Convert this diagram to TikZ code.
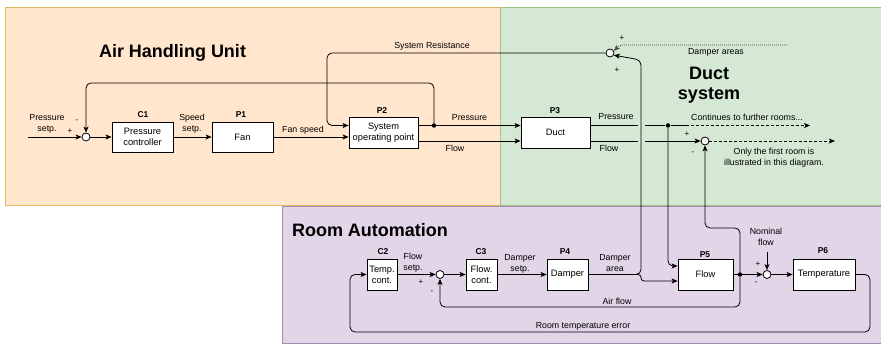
\documentclass[tikz,border=0pt]{standalone}
\usepackage{fontspec}
\setmainfont{Liberation Sans}
\usetikzlibrary{arrows.meta}
\definecolor{ahuF}{HTML}{FFE6CC}
\definecolor{ahuD}{HTML}{E0B860}
\definecolor{ductF}{HTML}{D5E8D4}
\definecolor{ductD}{HTML}{9CC487}
\definecolor{roomF}{HTML}{E1D5E7}
\definecolor{roomD}{HTML}{A68AB4}
\begin{document}
\begin{tikzpicture}[x=1pt,y=-1pt,
  line width=0.8pt,
  >={Stealth[length=6pt,width=5pt,inset=1.5pt]},
  blk/.style={draw,fill=white,minimum width=#1,minimum height=31pt,inner sep=1pt,
    font=\fontsize{9.3}{10.8}\selectfont,align=center},
  sumc/.style={circle,draw,fill=white,minimum size=8pt,inner sep=0pt},
  jdot/.style={circle,fill,minimum size=4.5pt,inner sep=0pt},
  lbl/.style={font=\fontsize{8.8}{11}\selectfont,inner sep=0pt,align=center},
  sgn/.style={font=\fontsize{8}{9}\selectfont,inner sep=0pt},
  tag/.style={font=\bfseries\fontsize{8.5}{10}\selectfont,inner sep=0pt},
  ttl/.style={font=\bfseries\fontsize{18}{20}\selectfont,inner sep=0pt,align=center},
  rc/.style={rounded corners=5pt},
  contline/.style={dash pattern=on 3pt off 2pt},
  arealine/.style={dash pattern=on 1pt off 1pt,line width=0.6pt,black!70}]
\useasboundingbox (0,0) rectangle (881,344);
% regions
\filldraw[fill=ahuF,draw=ahuD] (5,7) rectangle (500,205);
\fill[ductF] (500,7) rectangle (881,205);
\draw[ductD] (881,7) -- (500,7) -- (500,205) -- (881,205);
\fill[roomF] (282,206) rectangle (881,343);
\draw[roomD] (881,206) -- (282,206) -- (282,343) -- (881,343);
% titles
\node[ttl] (tahu) at (172.5,53) {Air Handling Unit};
\node[ttl] (tduct) at (709,85) {Duct\\system};
\node[ttl] (troom) at (370,230) {Room Automation};
% blocks
\node[sumc] (s1) at (86,137) {};
\node[blk=61pt,minimum height=30pt] (c1) at (142.5,137) {Pressure\\controller};
\node[blk=61pt,minimum height=30pt] (p1) at (242.5,137) {Fan};
\node[blk=69pt] (p2) at (383.5,132.5) {System\\operating point};
\node[blk=69pt] (p3) at (555.5,132.5) {Duct};
\node[sumc] (s2) at (610,53) {};
\node[sumc] (s3) at (705,141) {};
\node[blk=30pt] (c2) at (382,274.5) {Temp.\\cont.};
\node[sumc] (s4) at (440,274.5) {};
\node[blk=31pt] (c3) at (481.5,274.5) {Flow.\\cont.};
\node[blk=41pt] (p4) at (567.5,274.5) {Damper};
\node[blk=55pt] (p5) at (705.5,274.5) {Flow};
\node[sumc] (s5) at (767,274.5) {};
\node[blk=62pt] (p6) at (824,274.5) {Temperature};
% block tags
\node[tag] (tc1) at (143,115) {C1};
\node[tag] (tp1) at (241,115) {P1};
\node[tag] (tp2) at (382,111) {P2};
\node[tag] (tp3) at (555,111) {P3};
\node[tag] (tc2) at (383,252) {C2};
\node[tag] (tc3) at (481,252) {C3};
\node[tag] (tp4) at (565,252) {P4};
\node[tag] (tp5) at (705,255) {P5};
\node[tag] (tp6) at (823,251) {P6};
% junctions and free ends
\node[jdot] (d1) at (434,125.5) {};
\node[jdot] (d2) at (668,125.5) {};
\node[jdot] (d3) at (740,274.5) {};
\coordinate (in) at (28,137);
\coordinate (fy) at (0,141);
\coordinate (fb1) at (434,83);
\coordinate (fb2) at (86,83);
\coordinate (sr1) at (327,53);
\coordinate (sr2) at (327,125.5);
\coordinate (dsh) at (686,125.5);
\coordinate (cont) at (810,125.5);
\coordinate (out) at (835,141);
\coordinate (j) at (641,274.5);
\coordinate (jt) at (641,60);
\coordinate (jb) at (641,281);
\coordinate (p5lo) at (0,281);
\coordinate (p5hi) at (0,266);
\coordinate (d2b) at (668,266);
\coordinate (a1) at (740,228);
\coordinate (a2) at (705,228);
\coordinate (b1) at (740,307);
\coordinate (b2) at (440,307);
\coordinate (nom) at (767,252);
\coordinate (r1) at (870,274.5);
\coordinate (r2) at (870,332);
\coordinate (r3) at (350,332);
\coordinate (r4) at (350,274.5);
\coordinate (da1) at (787,45);
\coordinate (da2) at (620,45);
% AHU connectors
\draw[->] (in) -- (s1);
\draw[->] (s1) -- (c1);
\draw[->] (c1) -- (p1);
\draw[->] (p1) -- (p2.west |- p1);
\draw[->] (p2.east |- d1) -- (p3.west |- d1);
\draw[->] (p2.east |- fy) -- (p3.west |- fy);
\draw[->,rc] (d1) -- (fb1) -- (fb2) -- (s1);
\draw[->,rc] (s2) -- (sr1) -- (sr2) -- (p2.west |- d1);
% duct connectors
\draw (p3.east |- d2) -- (d2);
\draw (d2) -- (dsh);
\draw[->,contline] (dsh) -- (cont);
\draw[->] (p3.east |- fy) -- (s3);
\draw[->,contline] (s3) -- (out);
\draw[->,arealine,rounded corners=3pt] (da1) -- (da2) -- (s2.30);
% line jumps
\fill[ductF] (637.5,122) rectangle (644.5,129);
\fill[ductF] (637.5,137.5) rectangle (644.5,144.5);
% room connectors
\draw[->,rc] (p4) -- (j) -- (jt) -- (s2.-30);
\draw[->,rounded corners=3pt] (p4) -- (j) -- (jb) -- (p5.west |- p5lo);
\draw[->,rc] (d2) -- (d2b) -- (p5.west |- p5hi);
\draw[->,rc] (d3) -- (a1) -- (a2) -- (s3);
\draw[->,rc] (d3) -- (b1) -- (b2) -- (s4);
\draw[->] (p5) -- (s5);
\draw[->] (s5) -- (p6);
\draw[->] (nom) -- (s5);
\draw[->,rc] (p6) -- (r1) -- (r2) -- (r3) -- (r4) -- (c2);
\draw[->] (c2) -- (s4);
\draw[->] (s4) -- (c3);
\draw[->] (c3) -- (p4);
% labels
\node[lbl] (l1) at (47,123.5) {Pressure\\setp.};
\node[sgn] (g1) at (70,131) {+};
\node[sgn] (g2) at (77,121) {-};
\node[lbl] (l2) at (192,124) {Speed\\setp.};
\node[lbl] (l3) at (303,130) {Fan speed};
\node[lbl] (l4) at (432,46) {System Resistance};
\node[lbl] (l5) at (469.5,117.5) {Pressure};
\node[lbl] (l6) at (455,148) {Flow};
\node[lbl] (l7) at (616,117) {Pressure};
\node[lbl] (l8) at (609,148) {Flow};
\node[lbl] (l9) at (747,117) {Continues to further rooms...};
\node[sgn] (g3) at (687,134) {+};
\node[sgn] (g4) at (693,153) {-};
\node[lbl] (l10) at (774,157.5) {Only the first room is\\illustrated in this diagram.};
\node[lbl] (l11) at (716,52) {Damper areas};
\node[sgn] (g5) at (622,38) {+};
\node[sgn] (g6) at (617,70) {+};
\node[lbl] (l12) at (413,263) {Flow\\setp.};
\node[sgn] (g7) at (421,282) {+};
\node[sgn] (g8) at (432,292) {-};
\node[lbl] (l13) at (520,263.5) {Damper\\setp.};
\node[lbl] (l14) at (615,263.5) {Damper\\area};
\node[lbl] (l15) at (617,301) {Air flow};
\node[lbl] (l16) at (766,237) {Nominal\\flow};
\node[sgn] (g9) at (758,264) {+};
\node[sgn] (g10) at (756,283) {-};
\node[lbl] (l17) at (583,326) {Room temperature error};
\end{tikzpicture}
\end{document}
